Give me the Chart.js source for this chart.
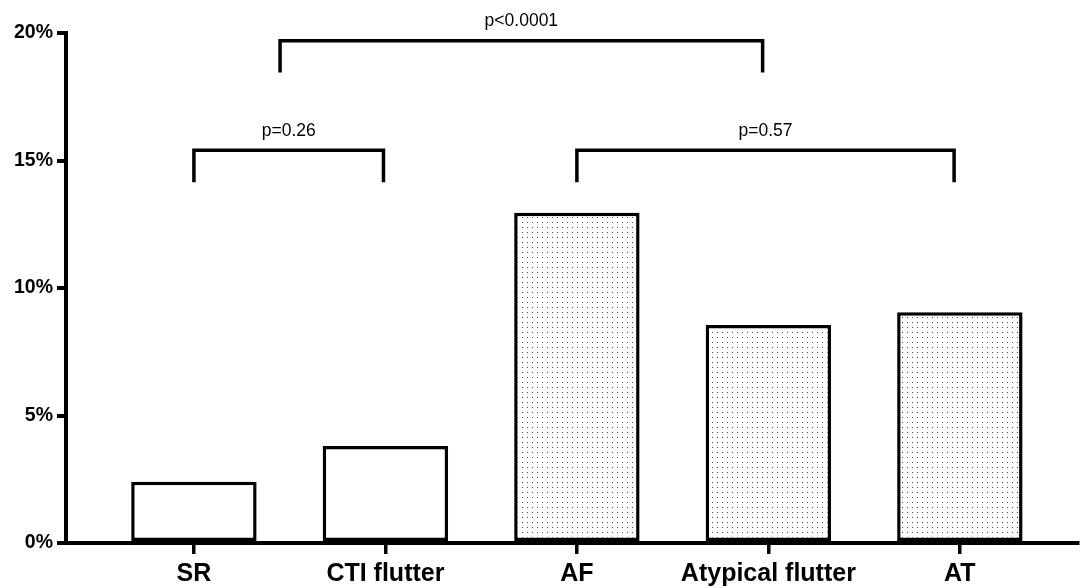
<!DOCTYPE html>
<html>
<head>
<meta charset="utf-8">
<script src="https://cdn.jsdelivr.net/npm/chart.js@4.4.0/dist/chart.umd.min.js"></script>
<style>
  body { margin: 0; background: #fff; }
  #wrap { width: 1081px; height: 588px; }
</style>
</head>
<body>
<div id="wrap"><canvas id="myBarChart" width="1081" height="588"></canvas></div>
<script>
// data
const categories = ['SR', 'CTI flutter', 'AF', 'Atypical flutter', 'AT'];
const rates = [2.4, 3.8, 12.95, 8.55, 9.05];
const dotted = [false, false, true, true, true];

const yTicks = [0, 5, 10, 15, 20];

// significance brackets (category positions, y in %)
const bracketFrom = [0, 2, 0.45];
const bracketTo = [0.99, 3.97, 2.97];
const bracketY = [15.4, 15.4, 19.7];
const bracketLabels = ['p=0.26', 'p=0.57', 'p<0.0001'];

// dotted fill like the prism graph
const dotCanvas = document.createElement('canvas');
dotCanvas.width = 5;
dotCanvas.height = 5;
const dctx = dotCanvas.getContext('2d');
dctx.fillStyle = '#ffffff';
dctx.fillRect(0, 0, 5, 5);
dctx.fillStyle = '#4a4a4a';
dctx.fillRect(2, 2, 1, 1);
const ctx = document.getElementById('myBarChart').getContext('2d');
const dots = ctx.createPattern(dotCanvas, 'repeat');

const brackets = {
  id: 'brackets',
  afterDatasetsDraw(chart) {
    const c = chart.ctx;
    const x = chart.scales.x;
    const y = chart.scales.y;
    c.save();
    c.strokeStyle = '#000';
    c.lineWidth = 3.5;
    c.lineCap = 'butt';
    c.lineJoin = 'miter';
    c.fillStyle = '#000';
    c.font = '17.5px "Liberation Sans", Arial, sans-serif';
    c.textAlign = 'center';
    c.textBaseline = 'middle';
    for (let i = 0; i < bracketLabels.length; i++) {
      const x1 = x.getPixelForValue(bracketFrom[i]);
      const x2 = x.getPixelForValue(bracketTo[i]);
      const yTop = y.getPixelForValue(bracketY[i]);
      const yLeg = y.getPixelForValue(bracketY[i] - 1.25);
      c.beginPath();
      c.moveTo(x1, yLeg);
      c.lineTo(x1, yTop);
      c.lineTo(x2, yTop);
      c.lineTo(x2, yLeg);
      c.stroke();
      c.fillText(bracketLabels[i], (x1 + x2) / 2, yTop - 19);
    }
    c.restore();
  }
};

new Chart(ctx, {
  type: 'bar',
  data: {
    datasets: [{
      data: rates.map((v, i) => ({x: i, y: v})),
      backgroundColor: dotted.map(d => d ? dots : '#ffffff'),
      borderColor: '#000',
      borderWidth: 3.5,
      borderSkipped: false,
      categoryPercentage: 1,
      barPercentage: 0.655
    }]
  },
  options: {
    responsive: false,
    animation: false,
    layout: { padding: { top: 33, right: 3, left: 0, bottom: 0 } },
    plugins: { legend: { display: false }, tooltip: { enabled: false } },
    scales: {
      x: {
        type: 'linear',
        offset: false,
        min: -0.668,
        max: 4.617,
        afterBuildTicks: (s) => { s.ticks = categories.map((c, i) => ({value: i})); },
        afterFit: (s) => { s.height = 45; },
        ticks: {
          autoSkip: false,
          maxRotation: 0,
          padding: 5,
          color: '#000',
          font: { family: '"Liberation Sans", Arial, sans-serif', size: 25, weight: 'bold' },
          callback: (v) => categories[v]
        },
        grid: { offset: false, drawOnChartArea: false, drawTicks: true, tickLength: 11, color: '#000', lineWidth: 3.5 },
        border: { display: true, color: '#000', width: 4 }
      },
      y: {
        min: 0,
        max: 20,
        afterBuildTicks: (s) => { s.ticks = yTicks.map(v => ({value: v})); },
        afterFit: (s) => { s.width = 66; },
        ticks: {
          padding: 4,
          color: '#000',
          font: { family: '"Liberation Sans", Arial, sans-serif', size: 19.5, weight: 'bold' },
          callback: (v) => v + '%'
        },
        grid: { drawOnChartArea: false, drawTicks: true, tickLength: 9, color: '#000', lineWidth: 4 },
        border: { display: true, color: '#000', width: 4 }
      }
    }
  },
  plugins: [brackets]
});
</script>
</body>
</html>
